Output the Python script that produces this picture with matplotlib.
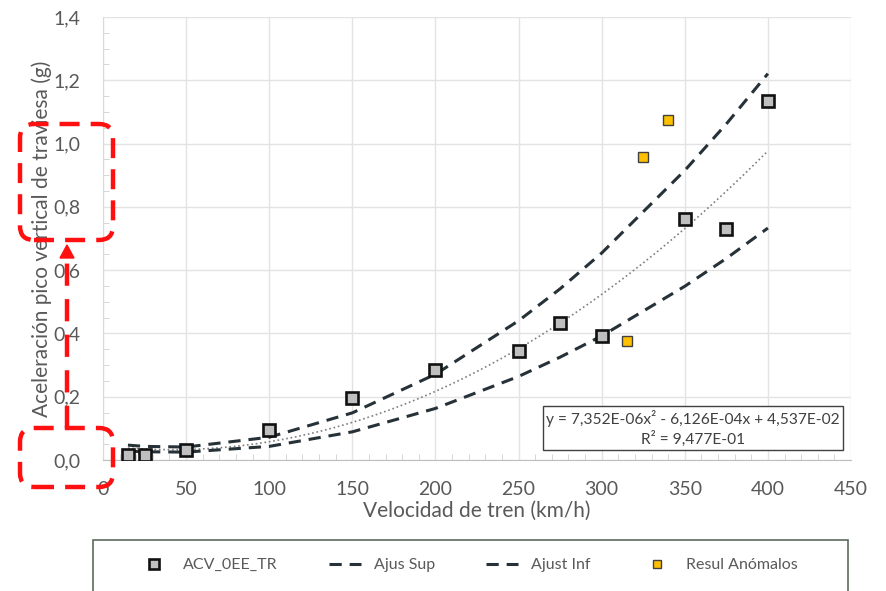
import numpy as np
import matplotlib
matplotlib.use("Agg")
import matplotlib.pyplot as plt
from matplotlib.patches import FancyBboxPatch, Rectangle, Polygon
from matplotlib.lines import Line2D
from matplotlib.transforms import IdentityTransform
from matplotlib.ticker import MultipleLocator, FuncFormatter

plt.rcParams['font.family'] = ['Lato', 'DejaVu Sans']

# measured points (km/h, g)
vel = [15, 25, 50, 100, 150, 200, 250, 275, 300, 350, 375, 400]
acv = [0.016, 0.016, 0.032, 0.095, 0.196, 0.284, 0.345, 0.432, 0.392, 0.762, 0.730, 1.135]

# anomalous results
vel_anom = [315, 325, 340]
acv_anom = [0.376, 0.958, 1.074]

# upper / lower fit bands
ajus_sup = [0.047, 0.043, 0.041, 0.072, 0.149, 0.271, 0.440, 0.541, 0.654, 0.915, 1.062, 1.221]
ajus_inf = [0.028, 0.026, 0.025, 0.043, 0.089, 0.163, 0.264, 0.325, 0.392, 0.549, 0.637, 0.733]

# trendline coefficients from the equation label
coef = [7.352e-06, -6.126e-04, 4.537e-02]
eq_text = "y = 7,352E-06x² - 6,126E-04x + 4,537E-02\nR² = 9,477E-01"

W, H = 886, 591
fig = plt.figure(figsize=(W / 100, H / 100), dpi=100)
ax = fig.add_axes([103 / W, 1 - 460 / H, (851 - 103) / W, (460 - 17) / H])

txt = '#595959'
dash_col = '#263238'

xs = np.linspace(vel[0], vel[-1], 200)
ax.plot(xs, np.polyval(coef, xs), color='#7f7f7f', lw=1.2, ls=':', zorder=3)
l_sup, = ax.plot(vel, ajus_sup, color=dash_col, lw=2.2, dashes=(4, 2.6), zorder=3)
l_inf, = ax.plot(vel, ajus_inf, color=dash_col, lw=2.2, dashes=(4, 2.6), zorder=3)
l_acv, = ax.plot(vel, acv, ls='none', marker='s', ms=9, mfc='#bfbfbf', mec='#111111', mew=1.9, zorder=4)
l_an, = ax.plot(vel_anom, acv_anom, ls='none', marker='s', ms=7.5, mfc='#ffc000', mec='#404040', mew=1.0, zorder=4)

ax.set_xlim(0, 450)
ax.set_ylim(0, 1.4)
ax.xaxis.set_major_locator(MultipleLocator(50))
ax.yaxis.set_major_locator(MultipleLocator(0.2))
ax.xaxis.set_minor_locator(MultipleLocator(10))
ax.yaxis.set_minor_locator(MultipleLocator(0.05))
ax.yaxis.set_major_formatter(FuncFormatter(lambda v, p: f"{v:.1f}".replace('.', ',')))
ax.grid(True, which='major', color='#e3e3e3', lw=1.0)
ax.set_axisbelow(True)
for s in ['top', 'right']:
    ax.spines[s].set_visible(False)
ax.spines['bottom'].set_color('#bfbfbf')
ax.spines['left'].set_color('#d9d9d9')
ax.tick_params(which='major', length=0, labelsize=14, labelcolor=txt)
ax.tick_params(axis='y', which='major', pad=16)
ax.tick_params(axis='x', which='major', pad=15)
ax.tick_params(which='minor', direction='in', length=4, color='#d0d0d0')
ax.set_xlabel('Velocidad de tren (km/h)', fontsize=15, color=txt, labelpad=2)
ax.set_ylabel('Aceleración pico vertical de traviesa (g)', fontsize=15, color=txt, labelpad=1)

ax.text(0.985, 0.072, eq_text, transform=ax.transAxes, ha='right', va='center',
        fontsize=11.2, color='#404040', multialignment='center', linespacing=1.3,
        bbox=dict(boxstyle='square,pad=0.22', fc='white', ec='#404040', lw=1.0), zorder=5)

# legend box at the bottom
fig.add_artist(Rectangle((93 / W, -0.01), (848 - 93) / W, (591 - 540) / H + 0.01,
                         transform=fig.transFigure, fc='white', ec='#5b6b5b', lw=1.2))
fig.legend([l_acv, l_sup, l_inf, l_an], ['ACV_0EE_TR', 'Ajus Sup', 'Ajust Inf', 'Resul Anómalos'],
           loc='center', bbox_to_anchor=(468 / W, (591 - 565) / H), ncol=4, frameon=False,
           fontsize=11.5, labelcolor=txt, columnspacing=3.2, handlelength=2.0, markerscale=0.75)

# red dashed annotations (pixel coordinates, origin bottom-left)
red = '#ff1010'
ident = IdentityTransform()
for top, bot in [(124, 240), (428, 487)]:
    fig.add_artist(FancyBboxPatch((20, H - bot), 93, bot - top,
                                  boxstyle='round,pad=0,rounding_size=14', transform=ident,
                                  fill=False, ec=red, lw=3.2, ls=(0, (4.5, 2.5))))
fig.add_artist(Line2D([67, 67], [H - 428, H - 256], transform=ident, color=red,
                      lw=3.2, ls=(0, (5, 3))))
fig.add_artist(Polygon([[60, H - 258], [74, H - 258], [67, H - 245]], closed=True,
                       transform=ident, color=red))

fig.savefig('out.png', dpi=100)
